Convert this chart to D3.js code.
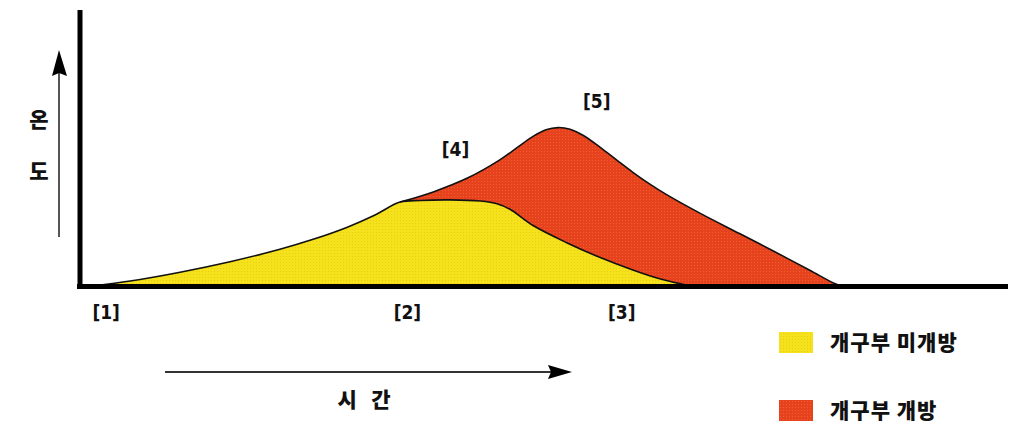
<!DOCTYPE html>
<html>
<head>
<meta charset="utf-8">
<script src="https://cdn.jsdelivr.net/npm/d3@7"></script>
<style>
  body { margin: 0; background: #fff; }
  svg { display: block; }
  .mark { font-family: "DejaVu Sans Condensed", "DejaVu Sans", sans-serif; font-weight: bold; font-size: 19px; fill: #111; }
  .kr { font-family: "Noto Sans CJK KR", sans-serif; font-weight: 900; fill: #111; }
</style>
</head>
<body>
<div id="chart"></div>
<script>
"use strict"

// 개구부 미개방 (closed openings) curve: time / temperature
const closedTime = [1.0, 5.0, 10.4, 15.8, 21.2, 24.8, 28.5, 31.5, 34.2, 36.4, 39.6, 42.9, 44.7, 46.1, 48.6, 52.3, 55.8, 59.4, 62.3, 65.6];
const closedTemp = [0, 1.8, 5.0, 8.8, 13.3, 16.9, 21.3, 25.7, 30.4, 31.0, 31.2, 30.8, 29.8, 27.8, 21.9, 15.6, 10.4, 5.8, 2.6, 0];

// 개구부 개방 (open openings) curve
const openTime = [34.2, 37.8, 41.5, 45.0, 46.9, 48.6, 50.0, 51.3, 52.6, 54.0, 55.8, 57.7, 59.4, 61.2, 63.1, 66.7, 71.0, 74.6, 78.6, 81.1, 82.0];
const openTemp = [30.4, 34.1, 39.1, 45.7, 50.2, 54.2, 56.6, 57.4, 56.8, 54.6, 50.4, 45.5, 41.2, 37.0, 33.0, 26.3, 18.9, 12.7, 5.6, 1.1, 0];

// stage markers
const markerLabels = ["[1]", "[2]", "[3]", "[4]", "[5]"];
const markerTime = [2.4, 35.0, 58.2, 40.2, 55.5];
const markerTemp = [-9.4, -9.4, -9.4, 49.6, 67.0];

const legendLabels = ["개구부 미개방", "개구부 개방"];
const legendColors = ["#f6e21c", "#e6421e"];

const W = 1014, H = 424;

const svg = d3.select("#chart").append("svg")
    .attr("width", W)
    .attr("height", H);

const x = d3.scaleLinear().domain([0, 100]).range([84, 1008]);
const y = d3.scaleLinear().domain([0, 100]).range([286, 10]);

// dithered fills
const defs = svg.append("defs");
function dotPattern(id, base, dot) {
    const p = defs.append("pattern")
        .attr("id", id)
        .attr("width", 3)
        .attr("height", 3)
        .attr("patternUnits", "userSpaceOnUse");
    p.append("rect").attr("width", 3).attr("height", 3).attr("fill", base);
    p.append("rect").attr("x", 1).attr("y", 1).attr("width", 1).attr("height", 1).attr("fill", dot);
}
dotPattern("dotY", legendColors[0], "#e9cf12");
dotPattern("dotR", legendColors[1], "#f0602e");

const closedData = closedTime.map((t, i) => ({ t: t, v: closedTemp[i] }));
const openData = openTime.map((t, i) => ({ t: t, v: openTemp[i] }));

const curve = d3.curveCatmullRom.alpha(0.5);

const area = d3.area()
    .x(d => x(d.t))
    .y0(y(0))
    .y1(d => y(d.v))
    .curve(curve);

const line = d3.line()
    .x(d => x(d.t))
    .y(d => y(d.v))
    .curve(curve);

// red first, yellow drawn over it
svg.append("path")
    .datum(openData)
    .attr("d", area)
    .attr("fill", "url(#dotR)");

svg.append("path")
    .datum(closedData)
    .attr("d", area)
    .attr("fill", "url(#dotY)");

svg.append("path")
    .datum(openData)
    .attr("d", line)
    .attr("fill", "none")
    .attr("stroke", "#111")
    .attr("stroke-width", 1.6);

svg.append("path")
    .datum(closedData)
    .attr("d", line)
    .attr("fill", "none")
    .attr("stroke", "#111")
    .attr("stroke-width", 1.6);

// axes
svg.append("line")
    .attr("x1", 80).attr("x2", 80)
    .attr("y1", 10).attr("y2", 289)
    .attr("stroke", "#000").attr("stroke-width", 5);

svg.append("line")
    .attr("x1", 77).attr("x2", 1008)
    .attr("y1", 286.5).attr("y2", 286.5)
    .attr("stroke", "#000").attr("stroke-width", 5);

// temperature arrow
svg.append("line")
    .attr("x1", 59).attr("x2", 59)
    .attr("y1", 237).attr("y2", 70)
    .attr("stroke", "#555").attr("stroke-width", 2);
svg.append("polygon")
    .attr("points", "59,50 52,76 59,73 67,76")
    .attr("fill", "#000");

svg.append("text").attr("class", "kr")
    .attr("x", 39).attr("y", 127)
    .attr("text-anchor", "middle")
    .attr("font-size", 21)
    .text("온");
svg.append("text").attr("class", "kr")
    .attr("x", 39).attr("y", 179)
    .attr("text-anchor", "middle")
    .attr("font-size", 21)
    .text("도");

// time arrow
svg.append("line")
    .attr("x1", 165).attr("x2", 555)
    .attr("y1", 372).attr("y2", 372)
    .attr("stroke", "#333").attr("stroke-width", 2);
svg.append("polygon")
    .attr("points", "572,372 548,365 551,372 548,379")
    .attr("fill", "#000");

svg.append("text").attr("class", "kr")
    .attr("x", 364).attr("y", 407)
    .attr("text-anchor", "middle")
    .attr("font-size", 21)
    .attr("xml:space", "preserve")
    .text("시   간");

// stage markers
svg.selectAll(".mark")
    .data(markerLabels)
    .join("text")
    .attr("class", "mark")
    .attr("x", (d, i) => x(markerTime[i]))
    .attr("y", (d, i) => y(markerTemp[i]) + 7)
    .attr("text-anchor", "middle")
    .text(d => d);

// legend
const legend = svg.selectAll(".legend")
    .data(legendLabels)
    .join("g")
    .attr("class", "legend")
    .attr("transform", (d, i) => `translate(779, ${332 + i * 68})`);

legend.append("rect")
    .attr("width", 34)
    .attr("height", 21)
    .attr("fill", (d, i) => i == 0 ? "url(#dotY)" : "url(#dotR)");

legend.append("text")
    .attr("class", "kr")
    .attr("x", 51)
    .attr("y", 18)
    .attr("font-size", 21)
    .attr("letter-spacing", 1)
    .text(d => d);
</script>
</body>
</html>
